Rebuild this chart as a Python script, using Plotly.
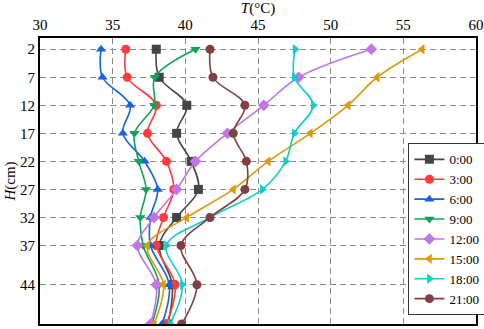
import plotly.graph_objects as go

depths = [2, 7, 12, 17, 22, 27, 32, 37, 44, 51]
y_ticks = [2, 7, 12, 17, 22, 27, 32, 37, 44, 51]
x_ticks = [30, 35, 40, 45, 50, 55, 60]

t_0000 = [38.0, 38.2, 40.1, 39.4, 40.4, 40.9, 39.4, 38.2, 39.1, 38.8]
t_0300 = [35.9, 36.0, 38.0, 37.4, 38.7, 39.2, 38.5, 38.0, 39.3, 38.7]
t_0600 = [34.2, 34.3, 36.2, 35.7, 37.2, 38.1, 37.6, 37.6, 38.9, 38.4]
t_0900 = [40.7, 37.9, 37.85, 36.5, 36.8, 37.3, 36.9, 37.1, 38.2, 37.7]
t_1200 = [52.8, 47.8, 45.4, 42.9, 40.7, 39.4, 37.85, 36.7, 38.0, 37.6]
t_1500 = [56.3, 53.2, 51.2, 48.6, 45.7, 43.3, 40.1, 37.4, 38.5, 37.85]
t_1800 = [47.55, 47.5, 48.8, 47.5, 46.9, 45.3, 41.7, 38.7, 39.8, 38.95]
t_2100 = [41.7, 41.9, 44.1, 43.3, 44.2, 44.1, 41.7, 39.7, 40.8, 39.75]

series_names = ["0:00", "3:00", "6:00", "9:00", "12:00", "15:00", "18:00", "21:00"]
series_values = [t_0000, t_0300, t_0600, t_0900, t_1200, t_1500, t_1800, t_2100]
colors = ["#454545", "#ff3b3b", "#1565e0", "#0fa35a", "#c175e6", "#df9a0c", "#12cccc", "#7f4040"]
symbols = ["square", "circle", "triangle-up", "triangle-down", "diamond",
           "triangle-left", "triangle-right", "circle"]

fig = go.Figure()
for name, vals, c, s in zip(series_names, series_values, colors, symbols):
    fig.add_trace(go.Scatter(
        x=vals, y=depths, name=name, mode="lines+markers",
        line=dict(color=c, width=1.6, shape="spline", smoothing=1.0),
        marker=dict(symbol=s, size=9, color=c),
    ))

font_family = "Liberation Serif"
fig.update_layout(
    width=484, height=329,
    margin=dict(l=40, r=8, t=38, b=5, autoexpand=False),
    paper_bgcolor="white", plot_bgcolor="white",
    font=dict(family=font_family, size=15, color="black"),
    showlegend=True,
    legend=dict(
        x=0.845, y=0.03, xanchor="left", yanchor="bottom",
        bgcolor="white", bordercolor="#333", borderwidth=1,
        font=dict(family=font_family, size=13),
        tracegroupgap=0, itemwidth=30,
    ),
    xaxis=dict(
        side="top", range=[30, 60], tickvals=x_ticks,
        showgrid=True, gridcolor="#8c8c8c", griddash="6px,4px", gridwidth=1,
        showline=True, linecolor="black", linewidth=2, mirror=True,
        zeroline=False, ticks="", tickfont=dict(family=font_family, size=15),
        title=dict(text="<i>T</i>(°C)", standoff=3, font=dict(family=font_family, size=15)),
    ),
    yaxis=dict(
        range=[51, 0], tickvals=y_ticks,
        showgrid=True, gridcolor="#8c8c8c", griddash="6px,4px", gridwidth=1,
        showline=True, linecolor="black", linewidth=2, mirror=True,
        zeroline=False, ticks="", tickfont=dict(family=font_family, size=15),
        title=dict(text="<i>H</i>(cm)", standoff=1, font=dict(family=font_family, size=15)),
    ),
)

fig.write_html("out.html", config={"displayModeBar": False},
               post_script="document.body.style.margin='0';")
